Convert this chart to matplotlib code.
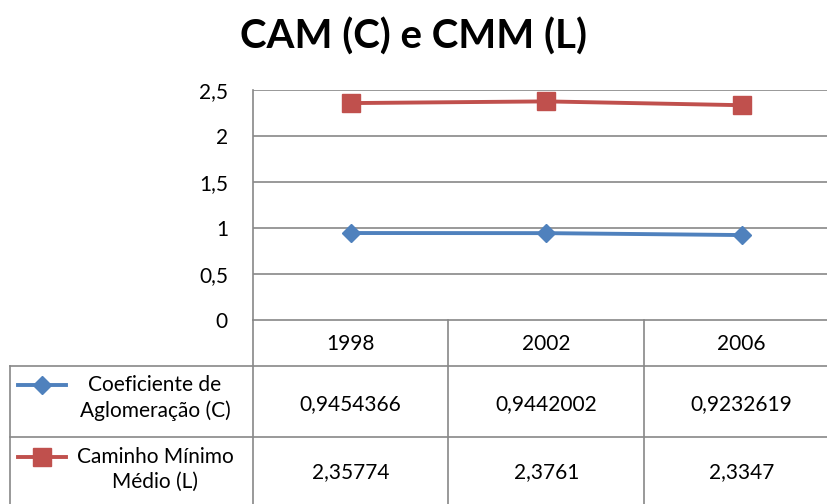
import numpy as np
import matplotlib.pyplot as plt
import matplotlib.transforms as mtransforms

# anos e indicadores da rede
anos = ['1998', '2002', '2006']
cam = [0.9454366, 0.9442002, 0.9232619]
cmm = [2.35774, 2.3761, 2.3347]
nomes = ['Coeficiente de\nAglomeração (C)', 'Caminho Mínimo\nMédio (L)']
yticks = [0, 0.5, 1, 1.5, 2, 2.5]

azul = '#4F81BD'
vermelho = '#C0504D'
cinza = '#888888'
fs = 15

plt.rcParams['font.family'] = ['Lato', 'DejaVu Sans']

W, H = 828, 504
fig = plt.figure(figsize=(W / 100, H / 100), dpi=100)

# camada em pixels para a tabela de dados
tab = fig.add_axes([0, 0, 1, 1])
tab.set_xlim(0, W)
tab.set_ylim(H, 0)
tab.axis('off')

x0, x1 = 253, 253 + 3 * 195.5
ytop, ybot = 90, 320
ax = fig.add_axes([x0 / W, 1 - ybot / H, (x1 - x0) / W, (ybot - ytop) / H])
ax.set_zorder(2)
ax.patch.set_alpha(0)

x = np.arange(len(anos))
ax.plot(x, cam, color=azul, lw=2.8, marker='D', ms=9, zorder=3)
ax.plot(x, cmm, color=vermelho, lw=2.8, marker='s', ms=12.5, zorder=3)
ax.set_xlim(-0.5, len(anos) - 0.5)
ax.set_ylim(0, 2.5)
ax.set_yticks(yticks)
ax.set_yticklabels([('%g' % v).replace('.', ',') for v in yticks], fontsize=fs)
ax.tick_params(axis='y', length=0, pad=18)
ax.set_xticks([])
for v in yticks[1:]:
    ax.axhline(v, color=cinza, lw=1.2, zorder=1)
for s in ['top', 'right', 'bottom']:
    ax.spines[s].set_visible(False)
ax.spines['left'].set_color(cinza)
ax.spines['left'].set_linewidth(1.2)

fig.text(0.5, 1 - 37 / H, 'CAM (C) e CMM (L)', ha='center', va='center',
         fontsize=29, fontweight='bold')

# tabela: colunas alinhadas com as categorias do eixo
tr = mtransforms.blended_transform_factory(ax.transData, tab.transData)
lk = dict(color=cinza, lw=1.2)
tab.plot([x0, W], [ybot, ybot], **lk)
for yl in [366, 437]:
    tab.plot([10, W], [yl, yl], **lk)
tab.plot([10, 10], [366, H], **lk)
for b in np.arange(len(anos)) - 0.5:
    tab.plot([b, b], [ybot, H], transform=tr, **lk)

for i, a in enumerate(anos):
    tab.text(i, 344, a, transform=tr, ha='center', va='center', fontsize=fs)
for serie, yc in [(cam, 404), (cmm, 472)]:
    for i, v in enumerate(serie):
        tab.text(i, yc, str(v).replace('.', ','), transform=tr,
                 ha='center', va='center', fontsize=fs)

# chaves da legenda
tab.plot([18, 42, 66], [385, 385, 385], color=azul, lw=2.8, marker='D', ms=9, markevery=[1])
tab.plot([18, 42, 66], [457, 457, 457], color=vermelho, lw=2.8, marker='s', ms=12.5, markevery=[1])
tab.text(155, 398, nomes[0], ha='center', va='center', fontsize=fs, linespacing=1.3)
tab.text(155, 469, nomes[1], ha='center', va='center', fontsize=fs, linespacing=1.3)

fig.savefig('out.png', dpi=100)
